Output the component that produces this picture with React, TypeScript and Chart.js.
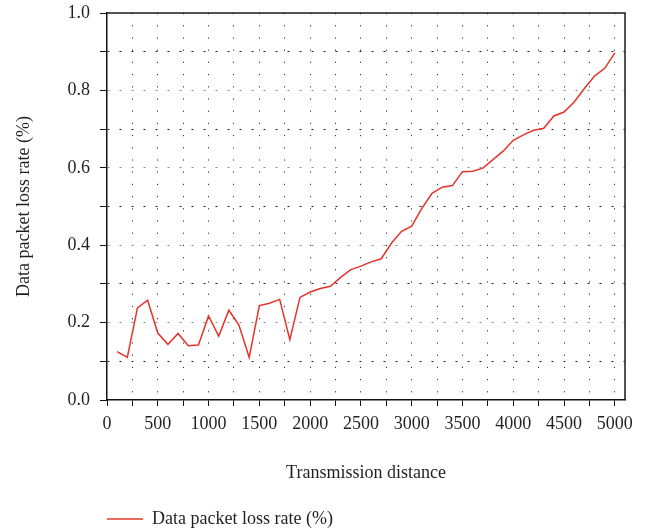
import React, { useEffect, useRef } from "react";
import { Chart, registerables } from "chart.js";

Chart.register(...registerables);

const distances: number[] = [
  100, 200, 300, 400, 500, 600, 700, 800, 900, 1000,
  1100, 1200, 1300, 1400, 1500, 1600, 1700, 1800, 1900, 2000,
  2100, 2200, 2300, 2400, 2500, 2600, 2700, 2800, 2900, 3000,
  3100, 3200, 3300, 3400, 3500, 3600, 3700, 3800, 3900, 4000,
  4100, 4200, 4300, 4400, 4500, 4600, 4700, 4800, 4900, 5000,
];
const lossRate: number[] = [
  0.125, 0.110, 0.238, 0.258, 0.173, 0.144, 0.172, 0.140, 0.142, 0.217,
  0.165, 0.232, 0.193, 0.110, 0.244, 0.250, 0.260, 0.156, 0.265, 0.279,
  0.288, 0.294, 0.317, 0.337, 0.346, 0.357, 0.365, 0.405, 0.436, 0.449,
  0.495, 0.534, 0.550, 0.554, 0.590, 0.591, 0.599, 0.621, 0.643, 0.671,
  0.685, 0.697, 0.702, 0.734, 0.744, 0.770, 0.805, 0.837, 0.857, 0.897,
];
const xTickValues: number[] = [
  0, 250, 500, 750, 1000, 1250, 1500, 1750, 2000, 2250, 2500,
  2750, 3000, 3250, 3500, 3750, 4000, 4250, 4500, 4750, 5000,
];
const seriesLabel = "Data packet loss rate (%)";
const xTitle = "Transmission distance";
const yTitle = "Data packet loss rate (%)";

const FONT = "'Liberation Serif', 'DejaVu Serif', serif";
const TEXT = "#231f20";

const framePlugin = {
  id: "frame",
  afterDraw(chart: any) {
    const { ctx, chartArea } = chart;
    ctx.save();
    ctx.strokeStyle = "#1a1a1a";
    ctx.lineWidth = 1.5;
    ctx.beginPath();
    ctx.moveTo(chartArea.left, chartArea.top);
    ctx.lineTo(chartArea.right, chartArea.top);
    ctx.lineTo(chartArea.right, chartArea.bottom);
    ctx.stroke();
    ctx.restore();
  },
};

export default function App() {
  const ref = useRef<HTMLCanvasElement | null>(null);
  useEffect(() => {
    document.body.style.margin = "0";
    const canvas = ref.current;
    if (!canvas) return;
    const chart = new Chart(canvas, {
      type: "line",
      data: {
        datasets: [
          {
            label: seriesLabel,
            data: distances.map((d, i) => ({ x: d, y: lossRate[i] })),
            borderColor: "#e5332a",
            backgroundColor: "#e5332a",
            borderWidth: 1.5,
            pointRadius: 0,
            tension: 0,
          },
        ],
      },
      options: {
        animation: false,
        responsive: false,
        layout: { padding: { left: 0, right: 25, top: 13, bottom: -9 } },
        plugins: {
          tooltip: { enabled: false },
          legend: {
            position: "bottom",
            align: "start",
            fullSize: false,
            labels: {
              padding: 0,
              boxWidth: 36,
              boxHeight: 0,
              color: TEXT,
              font: { family: FONT, size: 18 },
              generateLabels: (c: any) =>
                c.data.datasets.map((ds: any, i: number) => ({
                  text: ds.label,
                  fillStyle: "rgba(0,0,0,0)",
                  strokeStyle: "#ec6a5e",
                  lineWidth: 2,
                  datasetIndex: i,
                  fontColor: TEXT,
                })),
            },
          },
        },
        scales: {
          x: {
            type: "linear",
            min: 0,
            max: 5100,
            afterBuildTicks: (scale: any) => {
              scale.ticks = xTickValues.map((v) => ({ value: v }));
            },
            afterFit: (scale: any) => {
              scale.height = 110;
              scale.paddingLeft = 0;
              scale.paddingRight = 0;
            },
            ticks: {
              autoSkip: false,
              maxRotation: 0,
              color: TEXT,
              padding: 7,
              font: { family: FONT, size: 18 },
              callback: (v: any) => (Number(v) % 500 === 0 ? String(v) : ""),
            },
            grid: {
              color: (ctx: any) => (ctx.tick && ctx.tick.value === 0 ? "rgba(0,0,0,0)" : "#333"),
              lineWidth: 1,
              tickLength: 6,
              tickColor: "#111",
            },
            border: { display: true, color: "#111", width: 1.5, dash: [1.2, 11] },
            title: {
              display: true,
              text: xTitle,
              color: TEXT,
              font: { family: FONT, size: 18 },
              padding: { top: 0, bottom: 26 },
            },
          },
          y: {
            type: "linear",
            min: 0,
            max: 1,
            afterFit: (scale: any) => {
              scale.width = 107;
              scale.paddingTop = 0;
              scale.paddingBottom = 0;
            },
            ticks: {
              stepSize: 0.1,
              autoSkip: false,
              color: TEXT,
              padding: 10,
              font: { family: FONT, size: 18 },
              callback: (v: any) => {
                const n = Math.round(Number(v) * 10);
                return n % 2 === 0 ? (n / 10).toFixed(1) : "";
              },
            },
            grid: {
              color: (ctx: any) => {
                if (!ctx.tick) return "#555";
                const n = Math.round(ctx.tick.value * 10);
                if (n === 0 || n === 10) return "rgba(0,0,0,0)";
                return n % 2 === 1 ? "#222" : "#888";
              },
              lineWidth: 1,
              tickLength: 7,
              tickColor: "#111",
            },
            border: { display: true, color: "#111", width: 1.5, dash: [2, 10] },
            title: {
              display: true,
              text: yTitle,
              color: TEXT,
              font: { family: FONT, size: 18 },
              padding: { top: 13, bottom: 0 },
            },
          },
        },
      },
      plugins: [framePlugin],
    } as any);
    return () => chart.destroy();
  }, []);
  return (
    <div style={{ width: 650, height: 529 }}>
      <canvas ref={ref} width={650} height={529} style={{ display: "block" }} />
    </div>
  );
}
